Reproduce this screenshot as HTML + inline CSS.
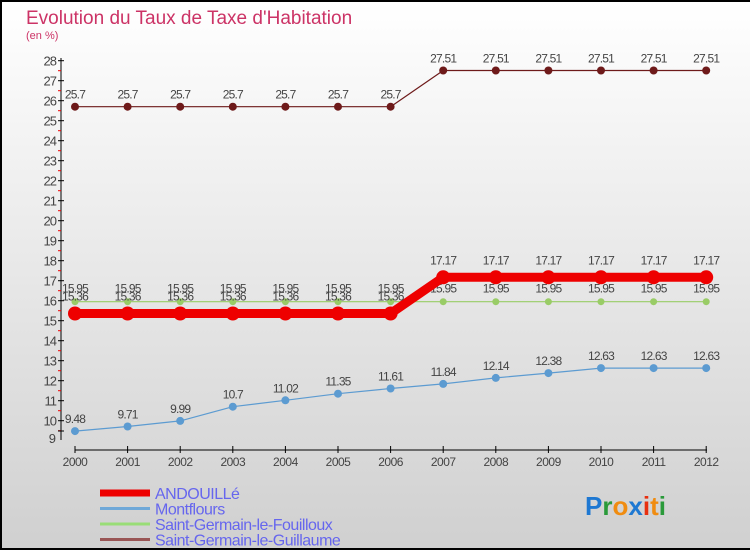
<!DOCTYPE html>
<html><head><meta charset="utf-8"><style>
html,body{margin:0;padding:0}
body{width:750px;height:550px;overflow:hidden}
#wrap{position:relative;width:750px;height:550px;box-sizing:border-box;border-left:2px solid #000;border-top:2px solid #000;border-bottom:2px solid #000;background:linear-gradient(#ffffff,#d0d0d0)}
svg{position:absolute;left:-2px;top:-2px}
text{font-family:"Liberation Sans",sans-serif}
</style></head><body>
<div id="wrap">
<svg id="chart" width="750" height="550">
<text x="26" y="24" font-size="19" fill="#cc3366">Evolution du Taux de Taxe d'Habitation</text>
<text x="26" y="39" font-size="11" fill="#cc3366">(en %)</text>
</svg>
</div>
<script>
const years=[2000,2001,2002,2003,2004,2005,2006,2007,2008,2009,2010,2011,2012];
const yTicks=[28,27,26,25,24,23,22,21,20,19,18,17,16,15,14,13,12,11,10];
const andouille=[15.36,15.36,15.36,15.36,15.36,15.36,15.36,17.17,17.17,17.17,17.17,17.17,17.17];
const montflours=[9.48,9.71,9.99,10.7,11.02,11.35,11.61,11.84,12.14,12.38,12.63,12.63,12.63];
const fouilloux=[15.95,15.95,15.95,15.95,15.95,15.95,15.95,15.95,15.95,15.95,15.95,15.95,15.95];
const guillaume=[25.7,25.7,25.7,25.7,25.7,25.7,25.7,27.51,27.51,27.51,27.51,27.51,27.51];
const seriesNames=["ANDOUILLé","Montflours","Saint-Germain-le-Fouilloux","Saint-Germain-le-Guillaume"];

const svg=document.getElementById('chart');
const NS='http://www.w3.org/2000/svg';
function xs(i){return 75+i*52.6;}
function ys(v){return 60.7+(28-v)*20;}
function mk(tag,attrs,parent){const e=document.createElementNS(NS,tag);for(const k in attrs)e.setAttribute(k,attrs[k]);(parent||svg).appendChild(e);return e;}

let ax=mk('line',{x1:61,y1:58,x2:61,y2:440,stroke:'#000','stroke-width':1});


yTicks.forEach(t=>{
  const y=ys(t);
  mk('line',{x1:58,y1:y,x2:64,y2:y,stroke:'#000'});
  mk('line',{x1:58,y1:y+10,x2:61,y2:y+10,stroke:'#e00'});
  const tx=mk('text',{x:56,y:y+5,'font-size':13,fill:'#444','text-anchor':'end','letter-spacing':'-1'});
  tx.textContent=t;
  
  
});
mk('line',{x1:58,y1:431,x2:64,y2:431,stroke:'#000'});
let t9=mk('text',{x:56,y:443,'font-size':13,fill:'#444','text-anchor':'end'});t9.textContent='9';



let xa=mk('line',{x1:75,y1:450,x2:707,y2:450,stroke:'#000'});


years.forEach((yr,i)=>{
  mk('line',{x1:xs(i),y1:446,x2:xs(i),y2:453,stroke:'#000'});
  const tx=mk('text',{x:xs(i),y:466,'font-size':12,fill:'#444','text-anchor':'middle','letter-spacing':'-0.5'});
  tx.textContent=yr;
  
  
});

function series(vals,color,lw,r,name,labelColor,dy){
  const g=mk('g',{});
  
  
  mk('polyline',{points:vals.map((v,i)=>xs(i)+','+ys(v)).join(' '),fill:'none',stroke:color,'stroke-width':lw,'stroke-linejoin':'round'},g);
  vals.forEach((v,i)=>{
    const c=mk('circle',{cx:xs(i),cy:ys(v),r:r,fill:color},g);
    
    
    const tx=mk('text',{x:xs(i),y:ys(v)-dy,'font-size':12,fill:labelColor,'text-anchor':'middle','letter-spacing':'-0.8'},g);
    tx.textContent=String(v);
    
    
  });
}
series(guillaume,'#6e1a1a',1.2,4,'guillaume-series','#444',8);
series(fouilloux,'#99cc66',1.2,3.5,'fouilloux-series','#444',9);
series(montflours,'#5c9bd1',1.2,4,'montflours-series','#444',8);
series(andouille,'#ee0000',9,7,'andouille-series','#444',13);
const lc=['#ee0000','#6fa8d8','#99dd77','#995555'],lw=[7,3,3,3];
seriesNames.forEach((n,i)=>{
  const y=493+i*15.5;
  const g=mk('g',{});
  
  
  mk('line',{x1:100,y1:y,x2:150,y2:y,stroke:lc[i],'stroke-width':lw[i]},g);
  const tx=mk('text',{x:155,y:y+6,'font-size':16,fill:'#6666ee','letter-spacing':'-0.5'},g);
  tx.textContent=n;
});
const logo=mk('text',{x:585,y:515,'font-size':26,'font-family':'Liberation Sans,sans-serif','font-weight':'bold'});


[['P','#1e78d2'],['r','#2a9a3a'],['o','#f08c10'],['x','#1e78d2'],['i','#e83010'],['t','#f08c10'],['i','#2a9a3a']].forEach(([c,col])=>{const s=mk('tspan',{fill:col},logo);s.textContent=c;});
</script>
</body></html>
